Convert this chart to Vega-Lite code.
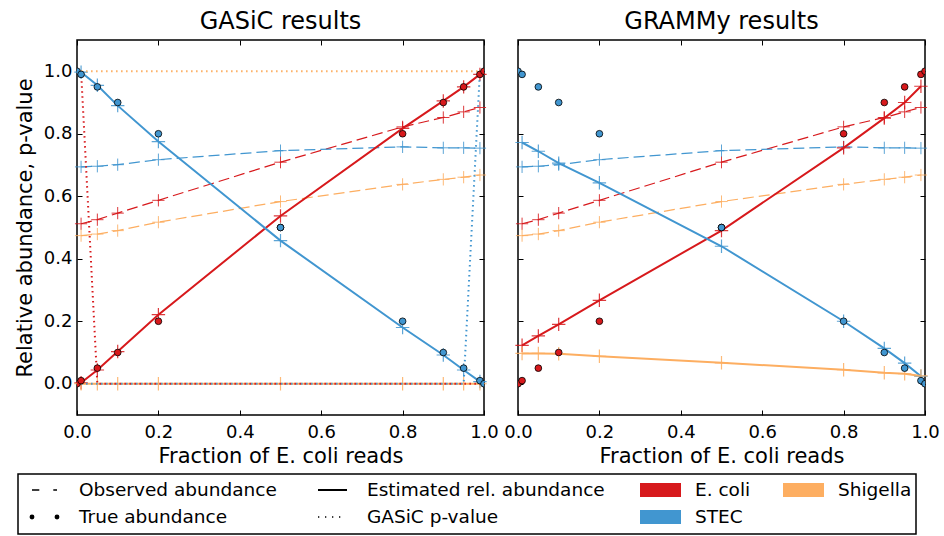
{
  "$schema": "https://vega.github.io/schema/vega-lite/v6.json",
  "padding": {"left": 13, "top": 8, "right": 0, "bottom": 0},
  "background": "white",
  "datasets": {
    "obs": [
      {"species": "E. coli", "x": 0.01, "value": 0.512},
      {"species": "E. coli", "x": 0.05, "value": 0.525},
      {"species": "E. coli", "x": 0.1, "value": 0.546},
      {"species": "E. coli", "x": 0.2, "value": 0.587},
      {"species": "E. coli", "x": 0.5, "value": 0.709},
      {"species": "E. coli", "x": 0.8, "value": 0.822},
      {"species": "E. coli", "x": 0.9, "value": 0.852},
      {"species": "E. coli", "x": 0.95, "value": 0.870},
      {"species": "E. coli", "x": 0.99, "value": 0.884},
      {"species": "STEC", "x": 0.01, "value": 0.694},
      {"species": "STEC", "x": 0.05, "value": 0.696},
      {"species": "STEC", "x": 0.1, "value": 0.701},
      {"species": "STEC", "x": 0.2, "value": 0.717},
      {"species": "STEC", "x": 0.5, "value": 0.746},
      {"species": "STEC", "x": 0.8, "value": 0.758},
      {"species": "STEC", "x": 0.9, "value": 0.755},
      {"species": "STEC", "x": 0.95, "value": 0.755},
      {"species": "STEC", "x": 0.99, "value": 0.754},
      {"species": "Shigella", "x": 0.01, "value": 0.474},
      {"species": "Shigella", "x": 0.05, "value": 0.479},
      {"species": "Shigella", "x": 0.1, "value": 0.490},
      {"species": "Shigella", "x": 0.2, "value": 0.517},
      {"species": "Shigella", "x": 0.5, "value": 0.583},
      {"species": "Shigella", "x": 0.8, "value": 0.638},
      {"species": "Shigella", "x": 0.9, "value": 0.654},
      {"species": "Shigella", "x": 0.95, "value": 0.661},
      {"species": "Shigella", "x": 0.99, "value": 0.668}
    ],
    "gasic": [
      {"species": "E. coli", "x": 0.01, "value": 0.003},
      {"species": "E. coli", "x": 0.05, "value": 0.044},
      {"species": "E. coli", "x": 0.1, "value": 0.103},
      {"species": "E. coli", "x": 0.2, "value": 0.221},
      {"species": "E. coli", "x": 0.5, "value": 0.537},
      {"species": "E. coli", "x": 0.8, "value": 0.817},
      {"species": "E. coli", "x": 0.9, "value": 0.905},
      {"species": "E. coli", "x": 0.95, "value": 0.950},
      {"species": "E. coli", "x": 0.99, "value": 0.990},
      {"species": "STEC", "x": 0.01, "value": 0.997},
      {"species": "STEC", "x": 0.05, "value": 0.955},
      {"species": "STEC", "x": 0.1, "value": 0.890},
      {"species": "STEC", "x": 0.2, "value": 0.775},
      {"species": "STEC", "x": 0.5, "value": 0.458},
      {"species": "STEC", "x": 0.8, "value": 0.180},
      {"species": "STEC", "x": 0.9, "value": 0.092},
      {"species": "STEC", "x": 0.95, "value": 0.044},
      {"species": "STEC", "x": 0.99, "value": 0.007},
      {"species": "Shigella", "x": 0.01, "value": 0.0},
      {"species": "Shigella", "x": 0.05, "value": 0.0},
      {"species": "Shigella", "x": 0.1, "value": 0.0},
      {"species": "Shigella", "x": 0.2, "value": 0.0},
      {"species": "Shigella", "x": 0.5, "value": 0.0},
      {"species": "Shigella", "x": 0.8, "value": 0.0},
      {"species": "Shigella", "x": 0.9, "value": 0.0},
      {"species": "Shigella", "x": 0.95, "value": 0.0},
      {"species": "Shigella", "x": 0.99, "value": 0.0}
    ],
    "grammy": [
      {"species": "E. coli", "x": 0.01, "value": 0.123},
      {"species": "E. coli", "x": 0.05, "value": 0.153},
      {"species": "E. coli", "x": 0.1, "value": 0.190},
      {"species": "E. coli", "x": 0.2, "value": 0.267},
      {"species": "E. coli", "x": 0.5, "value": 0.490},
      {"species": "E. coli", "x": 0.8, "value": 0.755},
      {"species": "E. coli", "x": 0.9, "value": 0.850},
      {"species": "E. coli", "x": 0.95, "value": 0.900},
      {"species": "E. coli", "x": 0.99, "value": 0.952},
      {"species": "STEC", "x": 0.01, "value": 0.772},
      {"species": "STEC", "x": 0.05, "value": 0.744},
      {"species": "STEC", "x": 0.1, "value": 0.706},
      {"species": "STEC", "x": 0.2, "value": 0.643},
      {"species": "STEC", "x": 0.5, "value": 0.440},
      {"species": "STEC", "x": 0.8, "value": 0.200},
      {"species": "STEC", "x": 0.9, "value": 0.113},
      {"species": "STEC", "x": 0.95, "value": 0.066},
      {"species": "STEC", "x": 0.99, "value": 0.024},
      {"species": "Shigella", "x": 0.01, "value": 0.097},
      {"species": "Shigella", "x": 0.05, "value": 0.097},
      {"species": "Shigella", "x": 0.1, "value": 0.096},
      {"species": "Shigella", "x": 0.2, "value": 0.088},
      {"species": "Shigella", "x": 0.5, "value": 0.067},
      {"species": "Shigella", "x": 0.8, "value": 0.045},
      {"species": "Shigella", "x": 0.9, "value": 0.035},
      {"species": "Shigella", "x": 0.95, "value": 0.032},
      {"species": "Shigella", "x": 0.99, "value": 0.025}
    ],
    "truth": [
      {"species": "E. coli", "x": 0.0, "value": 0.0},
      {"species": "E. coli", "x": 0.01, "value": 0.01},
      {"species": "E. coli", "x": 0.05, "value": 0.05},
      {"species": "E. coli", "x": 0.1, "value": 0.1},
      {"species": "E. coli", "x": 0.2, "value": 0.2},
      {"species": "E. coli", "x": 0.5, "value": 0.5},
      {"species": "E. coli", "x": 0.8, "value": 0.8},
      {"species": "E. coli", "x": 0.9, "value": 0.9},
      {"species": "E. coli", "x": 0.95, "value": 0.95},
      {"species": "E. coli", "x": 0.99, "value": 0.99},
      {"species": "E. coli", "x": 1.0, "value": 1.0},
      {"species": "STEC", "x": 0.0, "value": 1.0},
      {"species": "STEC", "x": 0.01, "value": 0.99},
      {"species": "STEC", "x": 0.05, "value": 0.95},
      {"species": "STEC", "x": 0.1, "value": 0.9},
      {"species": "STEC", "x": 0.2, "value": 0.8},
      {"species": "STEC", "x": 0.5, "value": 0.5},
      {"species": "STEC", "x": 0.8, "value": 0.2},
      {"species": "STEC", "x": 0.9, "value": 0.1},
      {"species": "STEC", "x": 0.95, "value": 0.05},
      {"species": "STEC", "x": 0.99, "value": 0.01},
      {"species": "STEC", "x": 1.0, "value": 0.0}
    ],
    "pval": [
      {"species": "E. coli", "x": 0.01, "value": 1.0},
      {"species": "E. coli", "x": 0.05, "value": 0.0},
      {"species": "E. coli", "x": 0.1, "value": 0.0},
      {"species": "E. coli", "x": 0.2, "value": 0.0},
      {"species": "E. coli", "x": 0.5, "value": 0.0},
      {"species": "E. coli", "x": 0.8, "value": 0.0},
      {"species": "E. coli", "x": 0.9, "value": 0.0},
      {"species": "E. coli", "x": 0.95, "value": 0.0},
      {"species": "E. coli", "x": 0.99, "value": 0.0},
      {"species": "STEC", "x": 0.01, "value": 0.0},
      {"species": "STEC", "x": 0.05, "value": 0.0},
      {"species": "STEC", "x": 0.1, "value": 0.0},
      {"species": "STEC", "x": 0.2, "value": 0.0},
      {"species": "STEC", "x": 0.5, "value": 0.0},
      {"species": "STEC", "x": 0.8, "value": 0.0},
      {"species": "STEC", "x": 0.9, "value": 0.0},
      {"species": "STEC", "x": 0.95, "value": 0.0},
      {"species": "STEC", "x": 0.99, "value": 1.0},
      {"species": "Shigella", "x": 0.01, "value": 1.0},
      {"species": "Shigella", "x": 0.05, "value": 1.0},
      {"species": "Shigella", "x": 0.1, "value": 1.0},
      {"species": "Shigella", "x": 0.2, "value": 1.0},
      {"species": "Shigella", "x": 0.5, "value": 1.0},
      {"species": "Shigella", "x": 0.8, "value": 1.0},
      {"species": "Shigella", "x": 0.9, "value": 1.0},
      {"species": "Shigella", "x": 0.95, "value": 1.0},
      {"species": "Shigella", "x": 0.99, "value": 1.0}
    ],
    "legend": [
      {"label": "Observed abundance", "col": 1, "row": 1, "kind": "observed"},
      {"label": "True abundance", "col": 1, "row": 2, "kind": "true"},
      {"label": "Estimated rel. abundance", "col": 2, "row": 1, "kind": "estimated"},
      {"label": "GASiC p-value", "col": 2, "row": 2, "kind": "pvalue"},
      {"label": "E. coli", "col": 3, "row": 1, "kind": "species", "species": "E. coli"},
      {"label": "STEC", "col": 3, "row": 2, "kind": "species", "species": "STEC"},
      {"label": "Shigella", "col": 4, "row": 1, "kind": "species", "species": "Shigella"},
      {"label": "", "col": 0, "col2": 5, "row": 0, "row2": 3, "kind": "box"}
    ]
  },
  "vconcat": [
    {
      "hconcat": [
        {
          "width": 407,
          "height": 375,
          "title": {"text": "GASiC results", "offset": 6},
          "resolve": {"axis": {"x": "independent", "y": "independent"}},
          "layer": [
            {
              "data": {"name": "obs"},
              "mark": {"type": "line", "strokeDash": [11, 5], "strokeWidth": 1.2},
              "encoding": {
                "x": {"field": "x", "type": "quantitative", "scale": {"domain": [0, 1], "nice": false}, "axis": {"orient": "bottom", "values": [0, 0.2, 0.4, 0.6, 0.8, 1], "format": ".1f", "title": "Fraction of E. coli reads", "tickSize": -5, "labelPadding": 13, "titlePadding": 4}},
                "y": {"field": "value", "type": "quantitative", "scale": {"domain": [-0.1, 1.1], "nice": false, "zero": false}, "axis": {"orient": "left", "values": [0, 0.2, 0.4, 0.6, 0.8, 1], "format": ".1f", "title": "Relative abundance, p-value", "tickSize": -5, "labelPadding": 10, "titlePadding": 8}},
                "color": {"field": "species", "type": "nominal", "scale": {"domain": ["E. coli", "STEC", "Shigella"], "range": ["#d7191c", "#4196d0", "#fdae61"]}, "legend": null}
              }
            },
            {
              "data": {"name": "obs"},
              "mark": {"type": "point", "shape": "M-1,0L1,0M0,-1L0,1", "size": 150, "filled": false, "strokeWidth": 1, "opacity": 0.85},
              "encoding": {
                "x": {"field": "x", "type": "quantitative", "axis": null},
                "y": {"field": "value", "type": "quantitative", "axis": null},
                "color": {"field": "species", "type": "nominal", "legend": null}
              }
            },
            {
              "data": {"name": "gasic"},
              "mark": {"type": "line", "strokeWidth": 2},
              "encoding": {
                "x": {"field": "x", "type": "quantitative", "axis": null},
                "y": {"field": "value", "type": "quantitative", "axis": null},
                "color": {"field": "species", "type": "nominal", "legend": null}
              }
            },
            {
              "data": {"name": "gasic"},
              "mark": {"type": "point", "shape": "M-1,0L1,0M0,-1L0,1", "size": 180, "filled": false, "strokeWidth": 1.2, "opacity": 0.85},
              "encoding": {
                "x": {"field": "x", "type": "quantitative", "axis": null},
                "y": {"field": "value", "type": "quantitative", "axis": null},
                "color": {"field": "species", "type": "nominal", "legend": null}
              }
            },
            {
              "data": {"name": "pval"},
              "mark": {"type": "line", "strokeDash": [1.5, 3.5], "strokeWidth": 2},
              "encoding": {
                "x": {"field": "x", "type": "quantitative", "axis": null},
                "y": {"field": "value", "type": "quantitative", "axis": null},
                "color": {"field": "species", "type": "nominal", "legend": null}
              }
            },
            {
              "data": {"name": "truth"},
              "mark": {"type": "point", "shape": "circle", "filled": true, "size": 45, "stroke": "black", "strokeWidth": 0.8, "opacity": 1, "clip": true},
              "encoding": {
                "x": {"field": "x", "type": "quantitative", "axis": {"orient": "top", "values": [0, 0.2, 0.4, 0.6, 0.8, 1], "labels": false, "title": null, "tickSize": -5}},
                "y": {"field": "value", "type": "quantitative", "axis": {"orient": "right", "values": [0, 0.2, 0.4, 0.6, 0.8, 1], "labels": false, "title": null, "tickSize": -5}},
                "color": {"field": "species", "type": "nominal", "legend": null}
              }
            }
          ]
        },
        {
          "width": 407,
          "height": 375,
          "title": {"text": "GRAMMy results", "offset": 6},
          "resolve": {"axis": {"x": "independent", "y": "independent"}},
          "layer": [
            {
              "data": {"name": "obs"},
              "mark": {"type": "line", "strokeDash": [11, 5], "strokeWidth": 1.2},
              "encoding": {
                "x": {"field": "x", "type": "quantitative", "scale": {"domain": [0, 1], "nice": false}, "axis": {"orient": "bottom", "values": [0, 0.2, 0.4, 0.6, 0.8, 1], "format": ".1f", "title": "Fraction of E. coli reads", "tickSize": -5, "labelPadding": 13, "titlePadding": 4}},
                "y": {"field": "value", "type": "quantitative", "scale": {"domain": [-0.1, 1.1], "nice": false, "zero": false}, "axis": {"orient": "left", "values": [0, 0.2, 0.4, 0.6, 0.8, 1], "labels": false, "title": null, "tickSize": -5}},
                "color": {"field": "species", "type": "nominal", "scale": {"domain": ["E. coli", "STEC", "Shigella"], "range": ["#d7191c", "#4196d0", "#fdae61"]}, "legend": null}
              }
            },
            {
              "data": {"name": "obs"},
              "mark": {"type": "point", "shape": "M-1,0L1,0M0,-1L0,1", "size": 150, "filled": false, "strokeWidth": 1, "opacity": 0.85},
              "encoding": {
                "x": {"field": "x", "type": "quantitative", "axis": null},
                "y": {"field": "value", "type": "quantitative", "axis": null},
                "color": {"field": "species", "type": "nominal", "legend": null}
              }
            },
            {
              "data": {"name": "grammy"},
              "mark": {"type": "line", "strokeWidth": 2},
              "encoding": {
                "x": {"field": "x", "type": "quantitative", "axis": null},
                "y": {"field": "value", "type": "quantitative", "axis": null},
                "color": {"field": "species", "type": "nominal", "legend": null}
              }
            },
            {
              "data": {"name": "grammy"},
              "mark": {"type": "point", "shape": "M-1,0L1,0M0,-1L0,1", "size": 180, "filled": false, "strokeWidth": 1.2, "opacity": 0.85},
              "encoding": {
                "x": {"field": "x", "type": "quantitative", "axis": null},
                "y": {"field": "value", "type": "quantitative", "axis": null},
                "color": {"field": "species", "type": "nominal", "legend": null}
              }
            },
            {
              "data": {"name": "truth"},
              "mark": {"type": "point", "shape": "circle", "filled": true, "size": 45, "stroke": "black", "strokeWidth": 0.8, "opacity": 1, "clip": true},
              "encoding": {
                "x": {"field": "x", "type": "quantitative", "axis": {"orient": "top", "values": [0, 0.2, 0.4, 0.6, 0.8, 1], "labels": false, "title": null, "tickSize": -5}},
                "y": {"field": "value", "type": "quantitative", "axis": {"orient": "right", "values": [0, 0.2, 0.4, 0.6, 0.8, 1], "labels": false, "title": null, "tickSize": -5}},
                "color": {"field": "species", "type": "nominal", "legend": null}
              }
            }
          ]
        }
      ],
      "spacing": 34,
      "bounds": "flush"
    },
    {
      "width": 839,
      "height": 60,
      "view": {"stroke": null},
      "data": {"name": "legend"},
      "encoding": {
        "x": {"field": "col", "type": "quantitative", "scale": {"domain": [0, 1, 2, 3, 4, 5], "range": [-59, 2, 290, 618, 761, 839]}, "axis": null},
        "y": {"field": "row", "type": "quantitative", "scale": {"domain": [0, 1, 2, 3], "range": [0, 16, 43, 60]}, "axis": null}
      },
      "layer": [
        {
          "transform": [{"filter": "datum.kind === 'box'"}],
          "mark": {"type": "rect", "fill": "transparent", "stroke": "black", "strokeWidth": 1.5, "clip": false},
          "encoding": {"x2": {"field": "col2"}, "y2": {"field": "row2"}}
        },
        {
          "transform": [{"filter": "datum.kind !== 'box'"}],
          "mark": {"type": "text", "align": "left", "baseline": "middle", "fontSize": 18.5, "font": "DejaVu Sans", "color": "black"},
          "encoding": {"text": {"field": "label"}}
        },
        {
          "transform": [{"filter": "datum.kind === 'observed'"}],
          "mark": {"type": "rule", "color": "black", "strokeWidth": 1.5, "strokeDash": [7.3, 14], "xOffset": -47, "x2Offset": -22},
          "encoding": {"x2": {"field": "col"}}
        },
        {
          "transform": [{"filter": "datum.kind === 'estimated'"}],
          "mark": {"type": "rule", "color": "black", "strokeWidth": 2, "xOffset": -49, "x2Offset": -20},
          "encoding": {"x2": {"field": "col"}}
        },
        {
          "transform": [{"filter": "datum.kind === 'pvalue'"}],
          "mark": {"type": "rule", "color": "black", "strokeWidth": 1.3, "strokeDash": [1.3, 5.7], "xOffset": -49, "x2Offset": -24},
          "encoding": {"x2": {"field": "col"}}
        },
        {
          "transform": [{"filter": "datum.kind === 'true'"}],
          "mark": {"type": "circle", "color": "black", "size": 24, "opacity": 1, "xOffset": -47},
          "encoding": {}
        },
        {
          "transform": [{"filter": "datum.kind === 'true'"}],
          "mark": {"type": "circle", "color": "black", "size": 24, "opacity": 1, "xOffset": -22},
          "encoding": {}
        },
        {
          "transform": [{"filter": "datum.kind === 'species'"}],
          "mark": {"type": "rect", "xOffset": -55, "x2Offset": -14, "yOffset": -7, "y2Offset": 7},
          "encoding": {
            "x2": {"field": "col"},
            "y2": {"field": "row"},
            "color": {"field": "species", "type": "nominal", "legend": null}
          }
        }
      ]
    }
  ],
  "spacing": 6,
  "config": {
    "font": "DejaVu Sans",
    "view": {"stroke": "black", "strokeWidth": 1.5},
    "axis": {"grid": false, "domain": false, "tickColor": "black", "tickWidth": 1, "labelColor": "black", "titleColor": "black", "labelFont": "DejaVu Sans", "titleFont": "DejaVu Sans", "labelFontSize": 18, "titleFontSize": 21, "titleFontWeight": "normal", "labelFlush": false, "labelOverlap": false},
    "title": {"fontSize": 24, "fontWeight": "normal", "color": "black", "font": "DejaVu Sans"}
  }
}
